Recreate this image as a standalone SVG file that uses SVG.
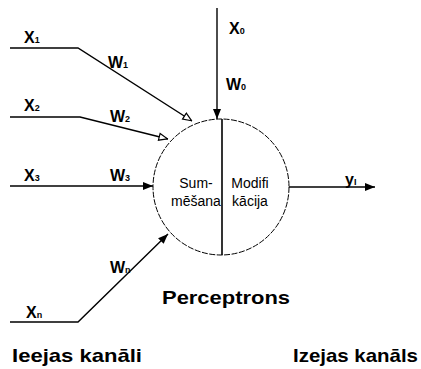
<svg xmlns="http://www.w3.org/2000/svg" width="421" height="369" viewBox="0 0 421 369">
<defs>
<marker id="ah" viewBox="0 0 10 10" refX="10" refY="5" markerWidth="10" markerHeight="10" markerUnits="userSpaceOnUse" orient="auto">
<path d="M0,1 L10,5 L0,9 Z" fill="#000"/>
</marker>
<marker id="aho" viewBox="0 0 10 10" refX="10" refY="5" markerWidth="10" markerHeight="10" markerUnits="userSpaceOnUse" orient="auto">
<path d="M1,1.5 L9.5,5 L1,8.5 Z" fill="#fff" stroke="#000" stroke-width="1.2"/>
</marker>
</defs>
<style>
text{font-family:"Liberation Sans",Arial,sans-serif;font-weight:bold;fill:#000}
.lbl{font-size:16px}
.sub{font-size:9px}
.in{font-size:14px;font-weight:normal}
.big{font-size:19px}
.ln{fill:none;stroke:#000;stroke-width:1.4}
</style>
<rect width="421" height="369" fill="#fff"/>
<g id="connectors">
<polyline class="ln" points="10,48 78,48 192,121" marker-end="url(#aho)"/>
<polyline class="ln" points="10,117 80,117 168,139" marker-end="url(#aho)"/>
<polyline class="ln" points="10,186 153,186" marker-end="url(#ah)"/>
<polyline class="ln" points="10,322 78,322 168,234" marker-end="url(#ah)"/>
<line class="ln" x1="217" y1="8" x2="217" y2="119" marker-end="url(#ah)"/>
<line class="ln" x1="289" y1="187" x2="375" y2="187" stroke-width="2" marker-end="url(#ah)"/>
</g>
<g id="perceptron">
<circle cx="221" cy="187" r="68" fill="none" stroke="#000" stroke-width="1" stroke-dasharray="6,1.5"/>
<line x1="222" y1="119" x2="222" y2="255" stroke="#000" stroke-width="1.6"/>
<text class="in" x="196" y="188" text-anchor="middle">Sum-</text>
<text class="in" x="196" y="206" text-anchor="middle">mēšana</text>
<text class="in" x="250" y="188" text-anchor="middle">Modifi</text>
<text class="in" x="250" y="206" text-anchor="middle">kācija</text>
</g>
<g id="labels">
<text class="lbl" x="24" y="43">X<tspan class="sub">1</tspan></text>
<text class="lbl" x="108" y="68">W<tspan class="sub">1</tspan></text>
<text class="lbl" x="24" y="111">X<tspan class="sub">2</tspan></text>
<text class="lbl" x="110" y="122">W<tspan class="sub">2</tspan></text>
<text class="lbl" x="24" y="181">X<tspan class="sub">3</tspan></text>
<text class="lbl" x="110" y="181">W<tspan class="sub">3</tspan></text>
<text class="lbl" x="110" y="273">W<tspan class="sub">n</tspan></text>
<text class="lbl" x="26" y="318">X<tspan class="sub">n</tspan></text>
<text class="lbl" x="229" y="34">X<tspan class="sub">0</tspan></text>
<text class="lbl" x="226" y="90">W<tspan class="sub">0</tspan></text>
<text class="lbl" x="345" y="185">y<tspan class="sub">I</tspan></text>
<text class="big" x="162" y="304" textLength="128" lengthAdjust="spacingAndGlyphs">Perceptrons</text>
<text class="big" x="12" y="362" textLength="130" lengthAdjust="spacingAndGlyphs">Ieejas  kanāli</text>
<text class="big" x="293" y="362" textLength="125" lengthAdjust="spacingAndGlyphs">Izejas kanāls</text>
</g>
</svg>
